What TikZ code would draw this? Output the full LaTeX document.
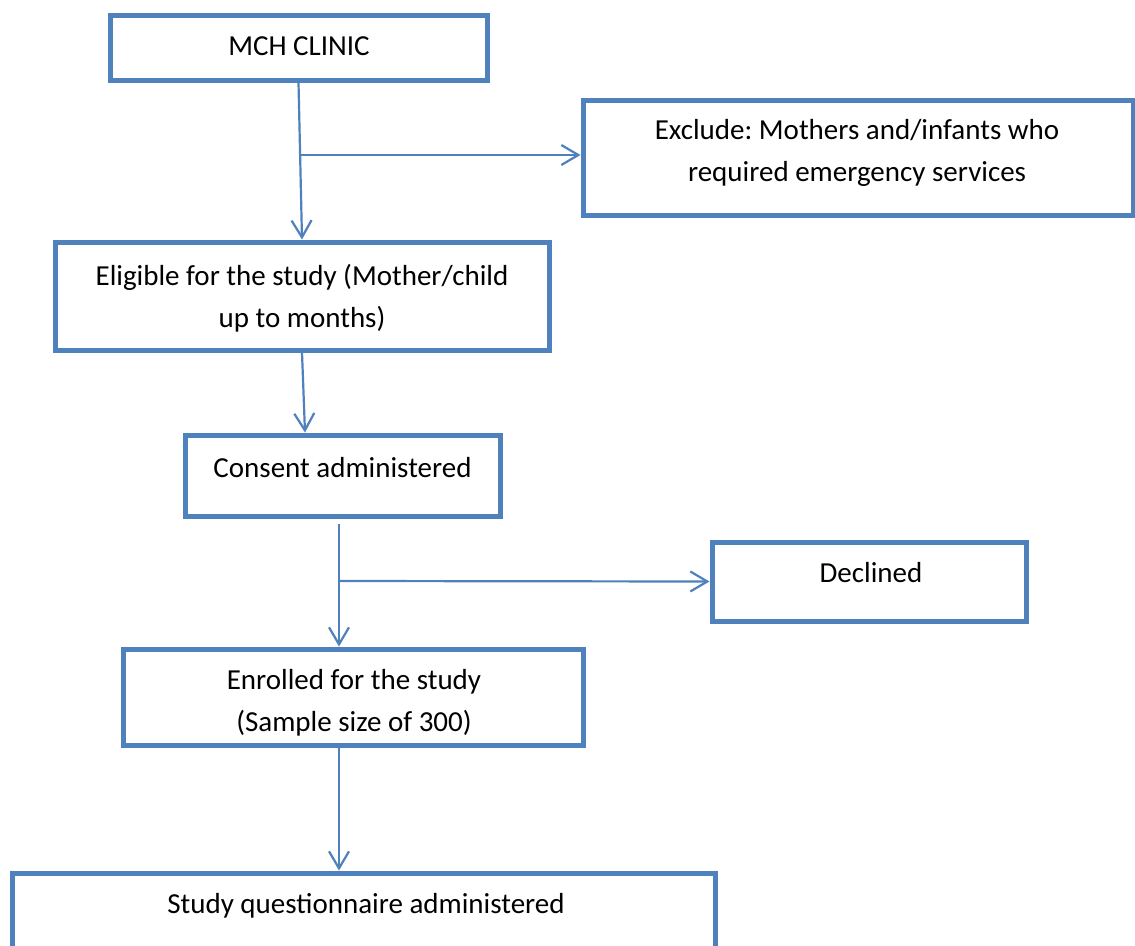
\documentclass[tikz,border=0pt]{standalone}
\usepackage{fontspec}
\setmainfont{Carlito}
\usetikzlibrary{arrows.meta,calc}
\definecolor{flowblue}{HTML}{4F81BD}
\frenchspacing
\begin{document}
\begin{tikzpicture}[x=1pt,y=-1pt,
  box/.style={draw=flowblue, line width=5pt, rectangle, inner sep=0pt},
  txt/.style={font=\fontsize{29}{42}\selectfont, inner sep=0pt, anchor=base, align=center, text=black},
  conn/.style={draw=flowblue, line width=2.2pt, -{Straight Barb[length=17pt,width=20pt,line width=2.2pt]}}]
\clip (0,0) rectangle (1135,945);
\fill[white] (0,0) rectangle (1135,945);
% boxes
\node[box, minimum width=377pt, minimum height=65pt] (mch) at (298.5,47.5) {};
\node[txt] (mchT) at (299,55) {MCH CLINIC};
\node[box, minimum width=550pt, minimum height=115pt] (exc) at (858,157.5) {};
\node[txt] (excT) at (857,181) {Exclude: Mothers and/infants who\\required emergency services};
\node[box, minimum width=494pt, minimum height=108pt] (eli) at (302,296) {};
\node[txt] (eliT) at (302,327) {Eligible for the study (Mother/child\\up to months)};
\node[box, minimum width=315pt, minimum height=81pt] (con) at (342.5,475.5) {};
\node[txt] (conT) at (342.5,477) {Consent administered};
\node[box, minimum width=314pt, minimum height=79pt] (dec) at (869,581.5) {};
\node[txt] (decT) at (871,582) {Declined};
\node[box, minimum width=460pt, minimum height=96pt] (enr) at (353,697) {};
\node[txt] (enrT) at (354,731) {Enrolled for the study\\(Sample size of 300)};
\node[box, minimum width=703pt, minimum height=200pt] (stu) at (363.5,973) {};
\node[txt] (stuT) at (366,913) {Study questionnaire administered};
% connectors
\draw[conn] (mch.south) -- (eli.north);
\coordinate (b1) at (300.5,155);
\draw[conn] (b1) -- (b1 -| exc.west);
\draw[conn] (eli.south) -- ($(con.north)+(-37.5,0)$);
\coordinate (p3) at (339,524);
\draw[conn] (p3) -- (p3 |- enr.north);
\coordinate (b3) at (339,581);
\draw[conn] (b3) -- (dec.west);
\draw[conn] (enr.south -| p3) -- (stu.north -| p3);
\end{tikzpicture}
\end{document}
